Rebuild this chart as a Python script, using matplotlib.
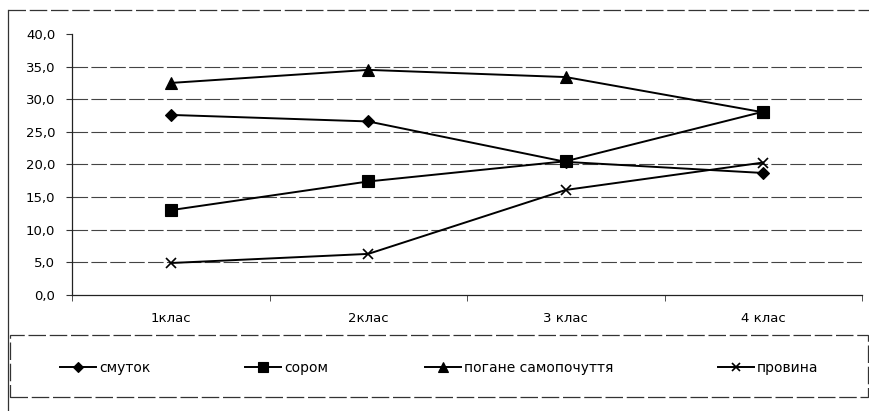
import matplotlib
matplotlib.use("Agg")
import matplotlib.pyplot as plt
from matplotlib.lines import Line2D
from matplotlib.patches import Rectangle
import numpy as np

plt.rcParams['font.family'] = ['DejaVu Sans']

categories = ["1клас", "2клас", "3 клас", "4 клас"]
smutok = [27.6, 26.6, 20.4, 18.7]
sorom = [13.0, 17.4, 20.5, 28.1]
pohane = [32.5, 34.5, 33.4, 28.0]
provyna = [4.9, 6.3, 16.1, 20.3]

series_names = ["смуток", "сором", "погане самопочуття", "провина"]
series_values = [smutok, sorom, pohane, provyna]
markers = ["D", "s", "^", "x"]
msizes = [6, 8, 8, 7]

W, H = 869, 411
fig = plt.figure(figsize=(W / 100, H / 100), dpi=100)

def fx(px):
    return px / W

def fy(py):
    return 1 - py / H

ax = fig.add_axes([fx(72), fy(295), fx(862) - fx(72), fy(34) - fy(295)])
x = np.arange(len(categories))
for vals, m, ms in zip(series_values, markers, msizes):
    ax.plot(x, vals, color="black", lw=1.4, marker=m, markersize=ms,
            markeredgewidth=1.2 if m == "x" else 0.8, markerfacecolor="black",
            markeredgecolor="black", zorder=3)

ax.set_xlim(-0.5, len(categories) - 0.5)
ax.set_ylim(0, 40)
yt = np.arange(0, 41, 5)
ax.set_yticks(yt)
ax.set_yticklabels([f"{v:.1f}".replace(".", ",") for v in yt], fontsize=9.5)
for v in yt[1:-1]:
    ax.axhline(v, color="#444444", lw=0.8, ls=(0, (14, 3)), zorder=1)

ax.set_xticks(x)
ax.set_xticklabels(categories, fontsize=9.5)
ax.tick_params(axis="x", length=0, pad=12)
ax.set_xticks(np.arange(-0.5, len(categories), 1), minor=True)
ax.tick_params(axis="x", which="minor", length=4, direction="out", color="#333333")
ax.tick_params(axis="y", length=4, direction="out", pad=8, color="#333333")

for s in ["top", "right"]:
    ax.spines[s].set_visible(False)
ax.spines["left"].set_color("#222222")
ax.spines["bottom"].set_color("#222222")
ax.spines["left"].set_linewidth(0.9)
ax.spines["bottom"].set_linewidth(0.9)

# outer chart frame
fig.add_artist(Line2D([fx(8), fx(869)], [fy(10), fy(10)], color="#333333", lw=0.9,
                      ls=(0, (14, 3)), transform=fig.transFigure))
fig.add_artist(Line2D([fx(8), fx(8)], [fy(10), fy(411)], color="#333333", lw=0.9,
                      transform=fig.transFigure))
# legend box
fig.add_artist(Rectangle((fx(10), fy(397)), fx(868) - fx(10), fy(335) - fy(397),
                         fill=False, edgecolor="#333333", lw=0.9, ls=(0, (14, 3)),
                         transform=fig.transFigure))

legend_x = [60, 245, 425, 718]
for name, m, ms, lx in zip(series_names, markers, msizes, legend_x):
    h = Line2D([], [], color="black", lw=1.4, marker=m, markersize=ms - 1,
               markerfacecolor="black", markeredgecolor="black",
               markeredgewidth=1.2 if m == "x" else 0.8)
    fig.legend([h], [name], loc="center left",
               bbox_to_anchor=(fx(lx), fy(368)), frameon=False,
               fontsize=10, handlelength=2.6, handletextpad=0.2,
               borderpad=0, borderaxespad=0)

fig.savefig("out.png", dpi=100)
